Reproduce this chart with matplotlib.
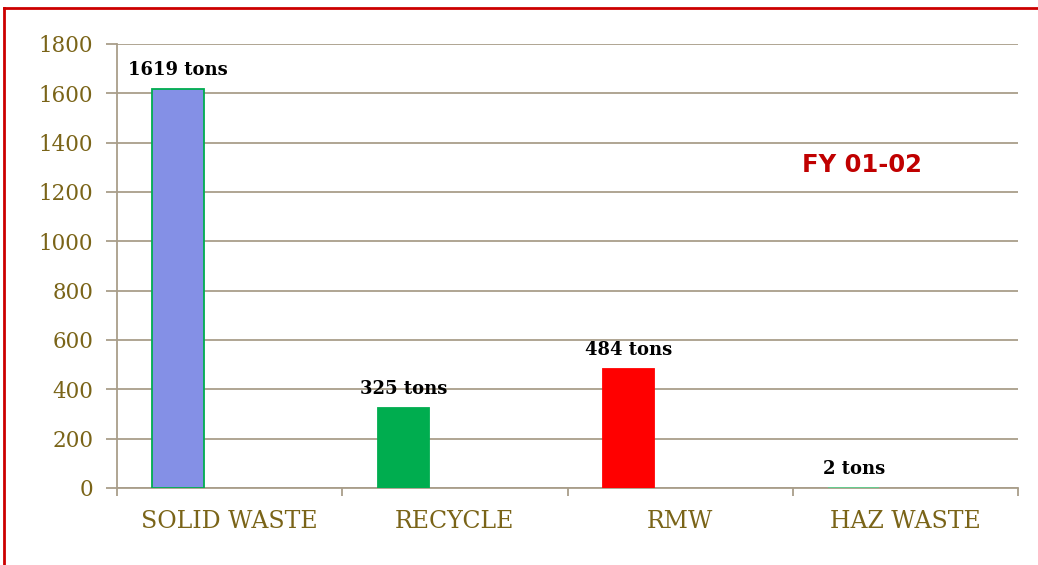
import numpy as np
import matplotlib.pyplot as plt
from matplotlib.lines import Line2D

# waste totals for the year
categories = ["SOLID WASTE", "RECYCLE", "RMW", "HAZ WASTE"]
tons = [1619, 325, 484, 2]
bar_colors = ["#8490E6", "#00AD4F", "#FF0000", "#00AD4F"]
edge_colors = ["#00AD4F", "#00AD4F", "#FF0000", "#5FD08F"]
yticks = np.arange(0, 1801, 200)

grid_c = "#A99E8A"
tick_c = "#7A6418"
serif = ["DejaVu Serif"]

fig = plt.figure(figsize=(10.38, 5.65), dpi=100)
ax = fig.add_axes([117 / 1038, 1 - 488 / 565, 901 / 1038, 444 / 565])

x = np.arange(len(categories))
ax.bar(x - 0.229, tons, width=0.227, color=bar_colors, edgecolor=edge_colors,
       linewidth=1.3, zorder=3)

for xi, v in zip(x, tons):
    ax.text(xi - 0.229, v + 38, f"{v} tons", ha="center", va="bottom",
            fontsize=13, fontweight="bold", family=serif, color="black", zorder=4)

ax.set_xlim(-0.5, 3.5)
ax.set_ylim(0, 1800)
ax.set_yticks(yticks)
ax.set_yticklabels([str(t) for t in yticks], family=serif, fontsize=15.5, color=tick_c)
ax.yaxis.grid(True, color=grid_c, linewidth=1.3, zorder=0)
ax.tick_params(axis="y", length=8, color=grid_c, width=1.3, pad=9)

# category labels centred in each slot, ticks on slot borders
ax.set_xticks(x)
ax.set_xticklabels(categories, family=serif, fontsize=17, color=tick_c)
ax.tick_params(axis="x", length=0, pad=16)
ax.set_xticks(np.arange(-0.5, 3.6, 1), minor=True)
ax.tick_params(axis="x", which="minor", length=6, color=grid_c, width=1.3)

for s in ["top", "right"]:
    ax.spines[s].set_visible(False)
for s in ["left", "bottom"]:
    ax.spines[s].set_color(grid_c)
    ax.spines[s].set_linewidth(1.3)

ax.text(862 / 1038, 1 - 165 / 565, "FY 01-02", transform=fig.transFigure,
        ha="center", va="center", fontsize=17.5, fontweight="bold",
        family=["DejaVu Sans"], color="#C00000")

# red frame along top and left edges
fig.add_artist(Line2D([4.5 / 1038, 4.5 / 1038], [0, 1 - 7.5 / 565],
                      transform=fig.transFigure, color="#CC0000", linewidth=2))
fig.add_artist(Line2D([4.5 / 1038, 1], [1 - 7.5 / 565, 1 - 7.5 / 565],
                      transform=fig.transFigure, color="#CC0000", linewidth=2))

fig.savefig("out.png", dpi=100)
